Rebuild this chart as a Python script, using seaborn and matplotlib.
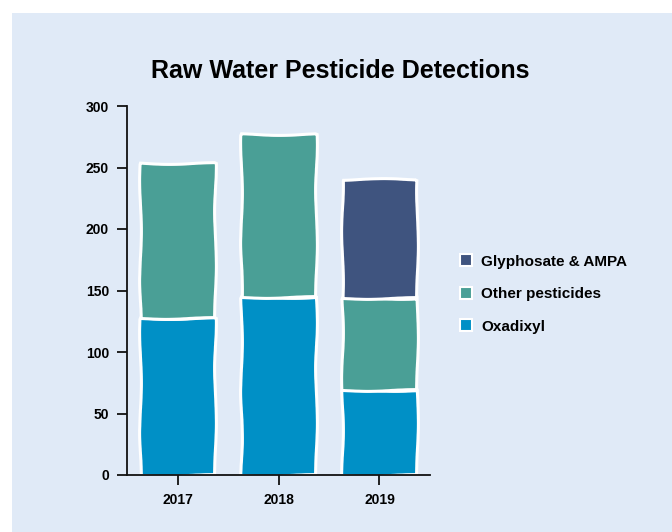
import matplotlib
matplotlib.use("Agg")
import matplotlib.pyplot as plt
import numpy as np
import pandas as pd
import seaborn as sns
from matplotlib.patches import Rectangle, Patch

years = ["2017", "2018", "2019"]
oxadixyl = [128, 145, 69]
other = [126, 132, 75]
glyphosate = [0, 0, 97]
series = ["Oxadixyl", "Other pesticides", "Glyphosate & AMPA"]
colors = ["#0090c6", "#4a9f96", "#3f547f"]
yticks = [0, 50, 100, 150, 200, 250, 300]

bg = "#e0eaf7"

sns.set_style("ticks")
plt.rcParams["font.family"] = ["Liberation Sans", "DejaVu Sans"]
plt.rcParams["font.weight"] = "bold"
plt.rcParams["text.color"] = "black"
plt.rcParams["xtick.color"] = "black"
plt.rcParams["ytick.color"] = "black"

fig = plt.figure(figsize=(6.72, 5.32), dpi=100, facecolor="white")
fig.patches.append(Rectangle((12 / 672, 0), 1, 1 - 13 / 532, transform=fig.transFigure,
                             facecolor=bg, edgecolor="none", zorder=-10))
ax = fig.add_axes([127 / 672, 1 - 475 / 532, (430 - 127) / 672, (475 - 106) / 532])
ax.set_facecolor("none")

df = pd.DataFrame({"year": years, "Oxadixyl": oxadixyl,
                   "Other pesticides": other, "Glyphosate & AMPA": glyphosate})

# stacked layers, bottom up
bottom = np.zeros(len(years))
for name, col in zip(series, colors):
    vals = df[name].to_numpy(dtype=float)
    sns.barplot(x=df["year"], y=vals, bottom=bottom, color=col, width=0.74,
                edgecolor="white", linewidth=2.2, saturation=1, ax=ax)
    bottom = bottom + vals

# hand-drawn look
for p in ax.patches:
    p.set_sketch_params(scale=0.9, length=110, randomness=2)
    if p.get_height() == 0:
        p.set_visible(False)

ax.set_ylim(0, 300)
ax.set_xlim(-0.5, 2.5)
ax.set_yticks(yticks)
ax.set_xlabel("")
ax.set_ylabel("")
sns.despine(ax=ax)
for s in ["left", "bottom"]:
    ax.spines[s].set_linewidth(1.3)
    ax.spines[s].set_color("#111111")
ax.tick_params(axis="both", length=7, width=1.3, color="#111111", labelsize=10, pad=6)
for lab in ax.get_xticklabels() + ax.get_yticklabels():
    lab.set_fontweight("bold")

fig.text(0.506, 1 - 71 / 532, "Raw Water Pesticide Detections", ha="center", va="center",
         fontsize=18, fontweight="bold")

handles = [Patch(facecolor=c, edgecolor="white", linewidth=1.5, label=n)
           for n, c in zip(series, colors)][::-1]
leg = fig.legend(handles=handles, loc="center left",
                 bbox_to_anchor=(446 / 672, 1 - 294 / 532),
                 frameon=False, fontsize=11, handlelength=0.8, handleheight=0.8,
                 labelspacing=1.2, handletextpad=0.6)
for t in leg.get_texts():
    t.set_fontweight("bold")

fig.savefig("out.png", dpi=100, facecolor="white")
